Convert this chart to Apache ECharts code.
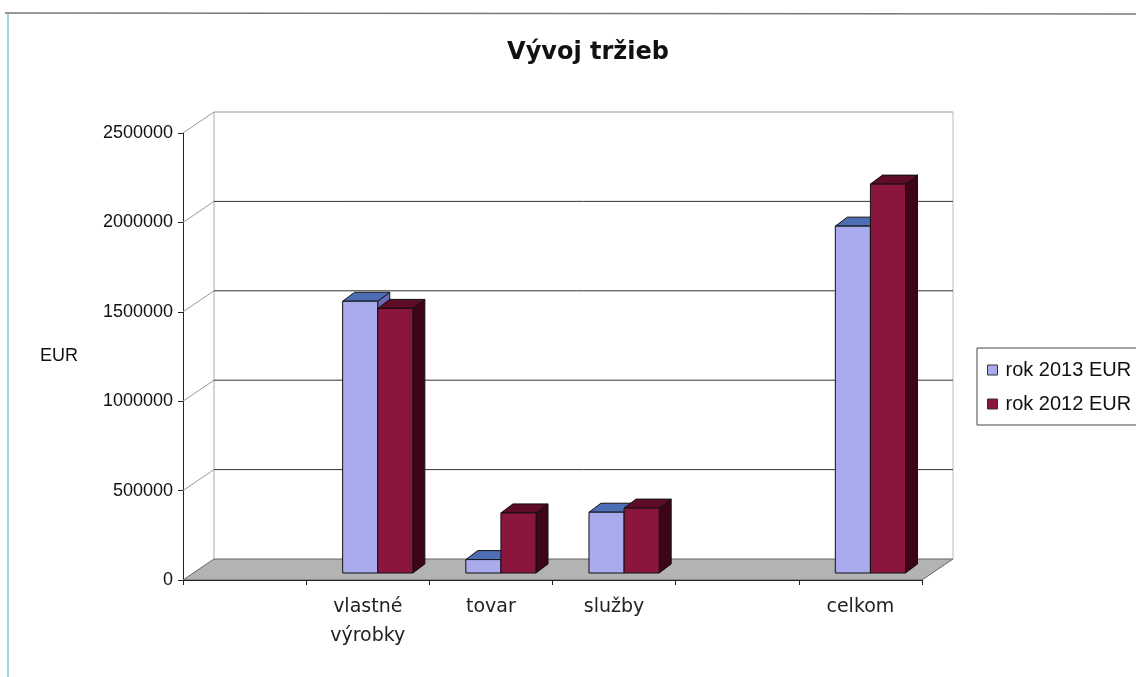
<!DOCTYPE html>
<html>
<head>
<meta charset="utf-8">
<script src="https://cdn.jsdelivr.net/npm/echarts@6/dist/echarts.min.js"></script>
<style>
  html, body { margin: 0; padding: 0; background: #fff; }
  #chart { width: 1136px; height: 677px; }
</style>
</head>
<body>
<div id="chart"></div>
<script>
  // kategórie (prázdne sloty sú v pôvodnom grafe tiež)
  const categories = ['', 'vlastné\nvýrobky', 'tovar', 'služby', '', 'celkom']
  const rok2013 = [null, 1520000, 75000, 340000, null, 1940000]
  const rok2012 = [null, 1480000, 336000, 363000, null, 2175000]
  const yTicks = [0, 500000, 1000000, 1500000, 2000000, 2500000]

  // 3D posuny v pixeloch
  const WALL = [31, -21]   // zadná stena
  const BAR0 = [10, -7]    // predná strana stĺpcov
  const BARD = [12, -9]    // hĺbka stĺpca

  const shades = [
    { front: '#aaabec', top: '#4d6db5', side: '#6a6ab5' },
    { front: '#8a1640', top: '#5e0c2a', side: '#3d0515' }
  ]

  const chart = echarts.init(document.getElementById('chart'))

  function renderWalls(params, api) {
    const v = api.value(1)
    const cs = params.coordSys
    const L = cs.x, R = cs.x + cs.width
    const y = api.coord([0, v])[1]
    const yTop = api.coord([0, yTicks[yTicks.length - 1]])[1]
    const kids = []
    if (v === 0) {
      kids.push({
        type: 'polygon',
        shape: { points: [[L, y], [R, y], [R + WALL[0], y + WALL[1]], [L + WALL[0], y + WALL[1]]] },
        style: { fill: '#b3b3b3', stroke: '#666', lineWidth: 1 }
      })
      kids.push({
        type: 'line',
        shape: { x1: L + WALL[0], y1: y + WALL[1], x2: L + WALL[0], y2: yTop + WALL[1] },
        style: { stroke: '#aaa', lineWidth: 1 }
      })
      kids.push({
        type: 'line',
        shape: { x1: R + WALL[0], y1: y + WALL[1], x2: R + WALL[0], y2: yTop + WALL[1] },
        style: { stroke: '#bbb', lineWidth: 1 }
      })
    } else {
      const top = v === yTicks[yTicks.length - 1]
      kids.push({
        type: 'line',
        shape: { x1: L, y1: y, x2: L + WALL[0], y2: y + WALL[1] },
        style: { stroke: '#999', lineWidth: 1 }
      })
      kids.push({
        type: 'line',
        shape: { x1: L + WALL[0], y1: y + WALL[1], x2: R + WALL[0], y2: y + WALL[1] },
        style: { stroke: top ? '#999' : '#333', lineWidth: 1 }
      })
    }
    return { type: 'group', children: kids }
  }

  function makeBarRender(idx) {
    return function (params, api) {
      const val = api.value(1)
      if (val == null || isNaN(val)) return null
      const b = api.coord([api.value(0), 0])
      const c = api.coord([api.value(0), val])
      const bw = api.size([1, 0])[0] * 0.285
      const x0 = b[0] + BAR0[0] + (idx === 0 ? -bw : 0)
      const x1 = x0 + bw
      const yb = b[1] + BAR0[1]
      const yt = c[1] + BAR0[1]
      const dx = BARD[0], dy = BARD[1]
      const s = shades[idx]
      const line = { stroke: '#111', lineWidth: 1, lineJoin: 'round' }
      return {
        type: 'group',
        children: [
          { type: 'polygon', shape: { points: [[x1, yt], [x1 + dx, yt + dy], [x1 + dx, yb + dy], [x1, yb]] },
            style: Object.assign({ fill: s.side }, line) },
          { type: 'polygon', shape: { points: [[x0, yt], [x1, yt], [x1 + dx, yt + dy], [x0 + dx, yt + dy]] },
            style: Object.assign({ fill: s.top }, line) },
          { type: 'rect', shape: { x: x0, y: yt, width: bw, height: yb - yt },
            style: Object.assign({ fill: s.front }, line) }
        ]
      }
    }
  }

  const option = {
    backgroundColor: '#fff',
    animation: false,
    title: {
      text: 'Vývoj tržieb',
      left: 583,
      top: 36,
      textAlign: 'center',
      textStyle: { fontFamily: 'DejaVu Sans', fontWeight: 'bold', fontSize: 24, color: '#111' }
    },
    legend: {
      left: 977,
      top: 348,
      orient: 'vertical',
      icon: 'rect',
      itemWidth: 10,
      itemHeight: 10,
      itemGap: 14,
      padding: [12, 30, 11, 10],
      borderColor: '#444',
      borderWidth: 1,
      textStyle: { fontFamily: 'Liberation Sans', fontSize: 20, color: '#111', padding: [0, 0, 0, 3] },
      data: [
        { name: 'rok 2013 EUR', itemStyle: { color: shades[0].front, borderColor: '#333', borderWidth: 1 } },
        { name: 'rok 2012 EUR', itemStyle: { color: shades[1].front, borderColor: '#333', borderWidth: 1 } }
      ]
    },
    grid: { left: 183, right: 214, top: 133, bottom: 97 },
    xAxis: {
      type: 'category',
      data: categories,
      axisLine: { lineStyle: { color: '#222', width: 1 } },
      axisTick: { show: true, length: 5, lineStyle: { color: '#222' } },
      axisLabel: {
        fontFamily: 'DejaVu Sans', fontSize: 19, color: '#222',
        margin: 13, lineHeight: 29, interval: 0
      },
      z: 5
    },
    yAxis: {
      type: 'value',
      min: 0,
      max: 2500000,
      interval: 500000,
      name: 'EUR',
      nameLocation: 'middle',
      nameRotate: 0,
      nameGap: 105,
      nameTextStyle: { fontFamily: 'Liberation Sans', fontSize: 18, color: '#111' },
      axisLine: { show: true, lineStyle: { color: '#222', width: 1 } },
      axisTick: { show: true, length: 5, lineStyle: { color: '#222' } },
      axisLabel: {
        fontFamily: 'Liberation Sans', fontSize: 18, color: '#111', margin: 10,
        formatter: v => String(v)
      },
      splitLine: { show: false }
    },
    graphic: [
      { type: 'line', shape: { x1: 5, y1: 13, x2: 1136, y2: 14 }, style: { stroke: '#777', lineWidth: 1.5 }, silent: true },
      { type: 'line', shape: { x1: 8, y1: 14, x2: 8, y2: 677 }, style: { stroke: '#9cd0ee', lineWidth: 2 }, silent: true }
    ],
    series: [
      {
        name: 'steny',
        type: 'custom',
        z: 1,
        silent: true,
        renderItem: renderWalls,
        encode: { x: 0, y: 1 },
        data: yTicks.map(v => [0, v])
      },
      {
        name: 'rok 2013 EUR',
        type: 'custom',
        z: 3,
        itemStyle: { color: shades[0].front },
        renderItem: makeBarRender(0),
        encode: { x: 0, y: 1 },
        data: rok2013.map((v, i) => [i, v])
      },
      {
        name: 'rok 2012 EUR',
        type: 'custom',
        z: 4,
        itemStyle: { color: shades[1].front },
        renderItem: makeBarRender(1),
        encode: { x: 0, y: 1 },
        data: rok2012.map((v, i) => [i, v])
      }
    ]
  }

  chart.setOption(option)
  window.addEventListener('resize', function () {
    chart.resize()
  })
</script>
</body>
</html>
